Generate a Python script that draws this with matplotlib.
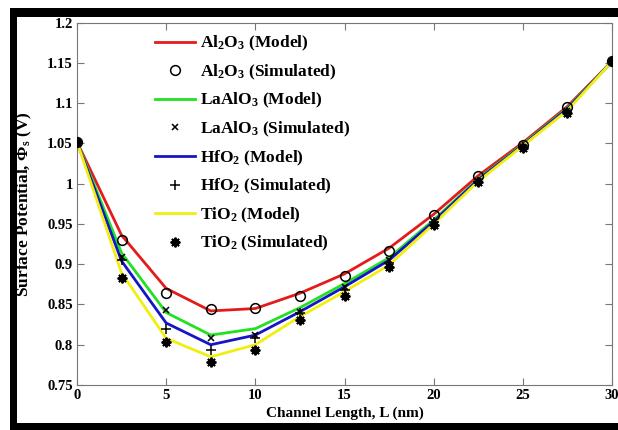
import matplotlib
matplotlib.use("Agg")
import matplotlib.pyplot as plt
from matplotlib.patches import Rectangle

plt.rcParams['font.family'] = ['Liberation Serif', 'DejaVu Serif']
plt.rcParams['font.weight'] = 'bold'
plt.rcParams['mathtext.fontset'] = 'custom'
plt.rcParams['mathtext.rm'] = 'Liberation Serif:bold'
plt.rcParams['mathtext.it'] = 'Liberation Serif:bold'
plt.rcParams['mathtext.bf'] = 'Liberation Serif:bold'
plt.rcParams['mathtext.default'] = 'rm'

# channel length (nm)
L = [0, 2.5, 5, 7.5, 10, 12.5, 15, 17.5, 20, 22.5, 25, 27.5, 30]

# surface potential (V)
al2o3_model = [1.052, 0.936, 0.870, 0.842, 0.845, 0.864, 0.888, 0.920, 0.962, 1.010, 1.051, 1.096, 1.152]
al2o3_sim = [1.052, 0.930, 0.864, 0.844, 0.846, 0.860, 0.885, 0.917, 0.961, 1.009, 1.048, 1.095, 1.152]
laalo3_model = [1.052, 0.914, 0.840, 0.812, 0.820, 0.846, 0.876, 0.908, 0.955, 1.006, 1.049, 1.094, 1.152]
laalo3_sim = [1.052, 0.909, 0.843, 0.808, 0.812, 0.841, 0.872, 0.905, 0.953, 1.003, 1.046, 1.090, 1.152]
hfo2_model = [1.052, 0.904, 0.827, 0.800, 0.812, 0.841, 0.872, 0.905, 0.953, 1.005, 1.048, 1.093, 1.152]
hfo2_sim = [1.052, 0.905, 0.820, 0.793, 0.808, 0.839, 0.868, 0.902, 0.952, 1.002, 1.045, 1.089, 1.152]
tio2_model = [1.052, 0.889, 0.808, 0.785, 0.800, 0.835, 0.866, 0.899, 0.950, 1.003, 1.047, 1.091, 1.152]
tio2_sim = [1.052, 0.883, 0.803, 0.778, 0.794, 0.831, 0.860, 0.896, 0.949, 1.002, 1.044, 1.088, 1.152]

x_ticks = [0, 5, 10, 15, 20, 25, 30]
y_ticks = [0.75, 0.8, 0.85, 0.9, 0.95, 1.0, 1.05, 1.1, 1.15, 1.2]
y_tick_labels = ['0.75', '0.8', '0.85', '0.9', '0.95', '1', '1.05', '1.1', '1.15', '1.2']

W, H = 618, 430
fig = plt.figure(figsize=(W / 100, H / 100), dpi=100)
ax = fig.add_axes([77 / W, 1 - 385 / H, (612 - 77) / W, (385 - 22.7) / H])

lw = 2.0
ax.plot(L, al2o3_model, color='#e41b1b', lw=lw, label=r'Al$_2$O$_3$ (Model)')
ax.plot(L, al2o3_sim, ls='none', marker='o', ms=7, mfc='none', mec='black', mew=1.1,
        label=r'Al$_2$O$_3$ (Simulated)')
ax.plot(L, laalo3_model, color='#22e022', lw=lw, label=r'LaAlO$_3$ (Model)')
ax.plot(L, laalo3_sim, ls='none', marker='x', ms=5, mec='black', mew=1.1,
        label=r'LaAlO$_3$ (Simulated)')
ax.plot(L, hfo2_model, color='#1515c8', lw=lw, label=r'HfO$_2$ (Model)')
ax.plot(L, hfo2_sim, ls='none', marker='+', ms=7, mec='black', mew=1.1,
        label=r'HfO$_2$ (Simulated)')
ax.plot(L, tio2_model, color='#f2ee10', lw=lw, label=r'TiO$_2$ (Model)')
ax.plot(L, tio2_sim, ls='none', marker=(8, 2, 0), ms=7, mec='black', mew=1.4,
        label=r'TiO$_2$ (Simulated)')

# markers sit above all lines
for ln in ax.lines:
    if ln.get_linestyle() == 'None':
        ln.set_zorder(3)

ax.set_xlim(0, 30)
ax.set_ylim(0.75, 1.2)
ax.set_xticks(x_ticks)
ax.set_yticks(y_ticks)
ax.set_yticklabels(y_tick_labels)
ax.tick_params(direction='in', length=5, width=0.8, color='#777777', labelsize=10.5,
               top=True, right=True, pad=3)
for s in ax.spines.values():
    s.set_color('#777777')
    s.set_linewidth(0.8)

ax.set_xlabel('Channel Length, L (nm)', fontsize=11, fontweight='bold', labelpad=3)
ax.set_ylabel(r'Surface Potential, $\Phi_s$ (V)', fontsize=12.5, fontweight='bold')
ax.yaxis.set_label_coords((34 - 77) / 535, 0.5)

ax.legend(loc='upper left', bbox_to_anchor=((155 - 77) / 535, (385 - 34) / 362.3),
          frameon=False, fontsize=12.5, handlelength=2.3, handletextpad=0.3,
          labelspacing=0.54, borderpad=0, borderaxespad=0)

# black frame round the picture
black = dict(facecolor='black', edgecolor='none', transform=None, zorder=10)
fig.patches.append(Rectangle((10, H - 17), W - 10, 9, **black))
fig.patches.append(Rectangle((10, 0), 7, H - 8, **black))
fig.patches.append(Rectangle((10, 0), W - 10, 7, **black))

fig.savefig('out.png', dpi=100)
